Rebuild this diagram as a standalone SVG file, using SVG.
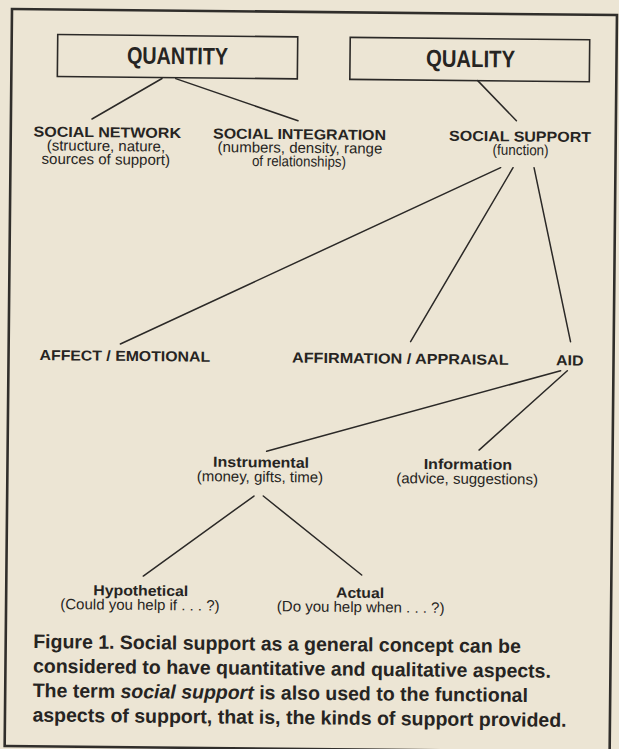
<svg xmlns="http://www.w3.org/2000/svg" width="619" height="749" viewBox="0 0 619 749">
  <style>
    .t{font-family:"Liberation Sans",Arial,Helvetica,sans-serif;fill:#262422}
    .big{font-size:24px;font-weight:bold;text-anchor:middle}
    .lab{font-size:14.5px;font-weight:bold;text-anchor:middle}
    .sub{font-size:15px;text-anchor:middle}
    .cap{font-size:19.5px;font-weight:bold}
    .box{fill:none;stroke:#2b2927;stroke-width:1.6}
    .frame{fill:none;stroke:#302e2b;stroke-width:2.6}
    #connectors line{stroke:#2b2927;stroke-width:1.5;stroke-linecap:round}
  </style>
  <!-- paper -->
  <rect width="619" height="749" fill="#ece5d4"/>
  <!-- whole figure, set slightly askew on the page -->
  <g transform="rotate(0.57 12 9)">
    <rect id="frame" class="frame" x="12" y="9" width="605" height="737"/>

    <g id="connectors">
      <line x1="162.7" y1="77" x2="93.1" y2="118.2"/>
      <line x1="176.4" y1="77" x2="299.1" y2="117.9"/>
      <line x1="478.4" y1="76" x2="517.5" y2="115.7"/>
      <line x1="502.2" y1="162.8" x2="123.7" y2="342.9"/>
      <line x1="514.6" y1="162.7" x2="413.9" y2="337.7"/>
      <line x1="535.6" y1="162.5" x2="573.8" y2="336.1"/>
      <line x1="564.2" y1="365.2" x2="271" y2="448.7"/>
      <line x1="570.9" y1="365.2" x2="483.4" y2="445.4"/>
      <line x1="258.8" y1="493.6" x2="148.9" y2="574.7"/>
      <line x1="268.1" y1="493.5" x2="367.3" y2="571.5"/>
    </g>

    <g id="quantity">
      <rect class="box" x="58" y="34" width="240" height="42"/>
      <text class="t big" x="178" y="62.5" textLength="101" lengthAdjust="spacingAndGlyphs">QUANTITY</text>
    </g>
    <g id="quality">
      <rect class="box" x="350.5" y="34" width="239.5" height="42"/>
      <text class="t big" x="471" y="62.5" textLength="89" lengthAdjust="spacingAndGlyphs">QUALITY</text>
    </g>

    <g id="social-network">
      <text class="t lab" x="108.5" y="136.4" textLength="147.5" lengthAdjust="spacingAndGlyphs">SOCIAL NETWORK</text>
      <text class="t sub" x="107.3" y="150">(structure, nature,</text>
      <text class="t sub" x="107.3" y="163.5">sources of support)</text>
    </g>
    <g id="social-integration">
      <text class="t lab" x="300.8" y="136.4" textLength="173" lengthAdjust="spacingAndGlyphs">SOCIAL INTEGRATION</text>
      <text class="t sub" x="301.3" y="150">(numbers, density, range</text>
      <text class="t sub" x="300.5" y="163.5" textLength="94" lengthAdjust="spacingAndGlyphs">of relationships)</text>
    </g>
    <g id="social-support">
      <text class="t lab" x="521.3" y="136.4" textLength="142" lengthAdjust="spacingAndGlyphs">SOCIAL SUPPORT</text>
      <text class="t sub" x="522" y="150" textLength="56" lengthAdjust="spacingAndGlyphs">(function)</text>
    </g>

    <g id="affect">
      <text class="t lab" x="128.3" y="359.8" textLength="170.5" lengthAdjust="spacingAndGlyphs">AFFECT / EMOTIONAL</text>
    </g>
    <g id="affirmation">
      <text class="t lab" x="403.8" y="359.8" textLength="216.5" lengthAdjust="spacingAndGlyphs">AFFIRMATION / APPRAISAL</text>
    </g>
    <g id="aid">
      <text class="t lab" x="573.3" y="359.8" textLength="27.5" lengthAdjust="spacingAndGlyphs">AID</text>
    </g>

    <g id="instrumental">
      <text class="t lab" x="265.6" y="464.8" textLength="96" lengthAdjust="spacingAndGlyphs">Instrumental</text>
      <text class="t sub" x="264.6" y="479.3">(money, gifts, time)</text>
    </g>
    <g id="information">
      <text class="t lab" x="472.4" y="464.8" textLength="88.4" lengthAdjust="spacingAndGlyphs">Information</text>
      <text class="t sub" x="471.8" y="479.3">(advice, suggestions)</text>
    </g>

    <g id="hypothetical">
      <text class="t lab" x="146.6" y="594.3" textLength="95" lengthAdjust="spacingAndGlyphs">Hypothetical</text>
      <text class="t sub" x="145.9" y="608.6">(Could you help if . . . ?)</text>
    </g>
    <g id="actual">
      <text class="t lab" x="365.9" y="594.3" textLength="48" lengthAdjust="spacingAndGlyphs">Actual</text>
      <text class="t sub" x="366.6" y="608.6">(Do you help when . . . ?)</text>
    </g>

    <g id="caption">
      <text class="t cap" x="39.5" y="647.8">Figure 1. Social support as a general concept can be</text>
      <text class="t cap" x="39.5" y="672.3">considered to have quantitative and qualitative aspects.</text>
      <text class="t cap" x="39.5" y="696.8">The term <tspan font-style="italic">social support</tspan> is also used to the functional</text>
      <text class="t cap" x="39.5" y="721.3">aspects of support, that is, the kinds of support provided.</text>
    </g>
  </g>
</svg>
